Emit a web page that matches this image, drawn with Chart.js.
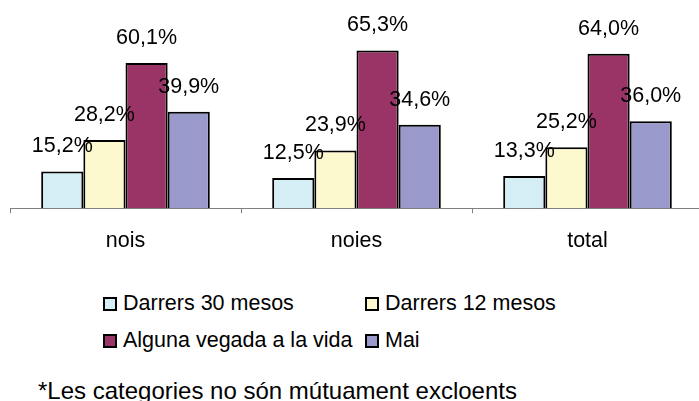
<!DOCTYPE html>
<html>
<head>
<meta charset="utf-8">
<script src="https://cdn.jsdelivr.net/npm/chart.js@4/dist/chart.umd.min.js"></script>
<style>
  html, body { margin: 0; padding: 0; background: #fff; overflow: hidden; }
  body { width: 699px; height: 401px; position: relative; font-family: "Liberation Sans", Arial, sans-serif; color: #000; }
  #wrap { position: absolute; left: 0; top: 0; width: 703px; height: 277px; }
  #legend { position: absolute; left: 103px; top: 291px; width: 500px; }
  .item { position: absolute; font-size: 21.5px; line-height: 24px; white-space: nowrap; }
  .box { display: inline-block; width: 10px; height: 10px; border: 2px solid #000; margin-right: 6px; vertical-align: -1px; }
  #note { position: absolute; left: 38px; top: 377px; font-size: 24px; line-height: 28px; white-space: nowrap; }
</style>
</head>
<body>
<div id="wrap"><canvas id="chart"></canvas></div>
<div id="legend"></div>
<div id="note">*Les categories no són mútuament excloents</div>
<script>
var categories = ["nois", "noies", "total"];
var seriesNames = ["Darrers 30 mesos", "Darrers 12 mesos", "Alguna vegada a la vida", "Mai"];
var darrers30 = [15.2, 12.5, 13.3];
var darrers12 = [28.2, 23.9, 25.2];
var algunaVegada = [60.1, 65.3, 64.0];
var mai = [39.9, 34.6, 36.0];
var colors = ["#d5eef5", "#fdf9cf", "#9a3366", "#9999cc"];

var values = [darrers30, darrers12, algunaVegada, mai];

// etiquetes de valor sobre cada barra
var valueLabels = {
  id: 'valueLabels',
  afterDatasetsDraw: function(chart) {
    var ctx = chart.ctx;
    ctx.save();
    ctx.font = '21.5px "Liberation Sans", Arial, sans-serif';
    ctx.fillStyle = '#000';
    ctx.textAlign = 'center';
    ctx.textBaseline = 'middle';
    chart.data.datasets.forEach(function(ds, i) {
      chart.getDatasetMeta(i).data.forEach(function(bar, j) {
        var txt = ds.data[j].toFixed(1).replace('.', ',') + '%';
        ctx.fillText(txt, bar.x, bar.y - 25);
      });
    });
    ctx.restore();
  }
};

var datasets = seriesNames.map(function(name, i) {
  return {
    label: name,
    data: values[i],
    backgroundColor: colors[i],
    borderColor: '#000',
    borderWidth: 2,
    categoryPercentage: 0.73,
    barPercentage: 1.0
  };
});

new Chart(document.getElementById('chart'), {
  type: 'bar',
  data: { labels: categories, datasets: datasets },
  options: {
    responsive: true,
    maintainAspectRatio: false,
    animation: false,
    layout: { padding: { top: 15, left: 10, right: 0, bottom: 8 } },
    plugins: { legend: { display: false }, tooltip: { enabled: false } },
    scales: {
      x: {
        grid: { offset: true, drawOnChartArea: false, tickLength: 5, color: '#808080', lineWidth: 1 },
        border: { color: '#808080', width: 1 },
        ticks: { padding: 15, color: '#000', font: { family: '"Liberation Sans", Arial, sans-serif', size: 21.5 } }
      },
      y: { display: false, min: 0, max: 80 }
    }
  },
  plugins: [valueLabels]
});

// llegenda en dues columnes
var legend = document.getElementById('legend');
var pos = [[0, 0], [262, 0], [0, 37], [262, 37]];
seriesNames.forEach(function(name, i) {
  var d = document.createElement('div');
  d.className = 'item';
  d.style.left = pos[i][0] + 'px';
  d.style.top = pos[i][1] + 'px';
  d.innerHTML = '<span class="box" style="background:' + colors[i] + '"></span>' + name;
  legend.appendChild(d);
});
</script>
</body>
</html>
